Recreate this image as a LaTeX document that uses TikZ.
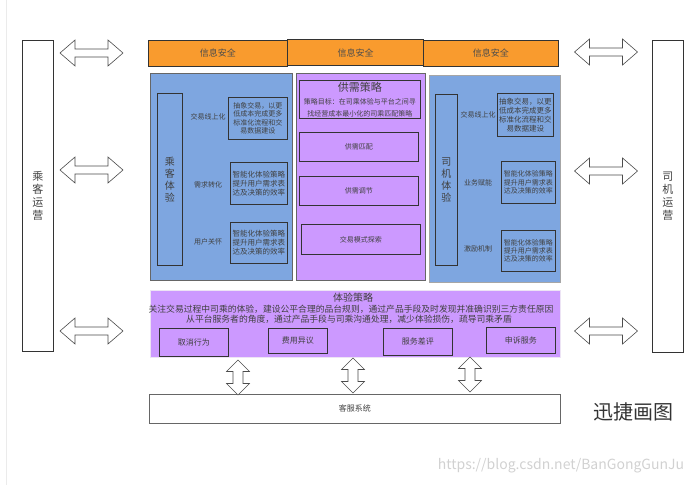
\documentclass[tikz,border=0pt]{standalone}
\usepackage{fontspec}
\setmainfont{Noto Sans CJK SC}
\definecolor{orangeC}{HTML}{F99B2E}
\definecolor{blueC}{HTML}{7EA6E0}
\definecolor{purpC}{HTML}{CC99FF}
\definecolor{txtC}{HTML}{404040}
\definecolor{edgeC}{HTML}{333333}
\newcommand{\fz}[1]{\fontsize{#1pt}{\dimexpr #1pt*6/5\relax}\selectfont}
\tikzset{
  box/.style={draw=edgeC, line width=0.8pt, inner sep=0pt, align=center, text=txtC, anchor=north west},
  lbl/.style={inner sep=0pt, align=center, text=txtC},
  harrow/.pic={\draw[draw=black!70, fill=white, line width=0.6pt]
     (-31.5,0) -- (-16.5,-13) -- (-16.5,-4) -- (16.5,-4) -- (16.5,-13) -- (31.5,0)
     -- (16.5,13) -- (16.5,4) -- (-16.5,4) -- (-16.5,13) -- cycle;},
  varrow/.pic={\draw[draw=black!70, fill=white, line width=0.6pt]
     (0,-17.5) -- (-11.5,-6) -- (-5,-6) -- (-5,6) -- (-11.5,6) -- (0,17.5)
     -- (11.5,6) -- (5,6) -- (5,-6) -- (11.5,-6) -- cycle;}
}
\begin{document}
\begin{tikzpicture}[x=1pt,y=-1pt]
\useasboundingbox (0,0) rectangle (698,485);
\draw[black!8, line width=0.6pt] (6,0) -- (6,485);
% side boxes
\node[box, line width=0.7pt, minimum width=31pt, minimum height=311pt, font=\fz{11}] (L) at (22,40) {乘\\客\\运\\营};
\node[box, line width=0.7pt, minimum width=31pt, minimum height=312pt, font=\fz{11}] (R) at (652,40) {司\\机\\运\\营};
% info security
\node[box, fill=orangeC, minimum width=139pt, minimum height=26pt, font=\fz{9}, text=black!70] (s1) at (148,40) {信息安全};
\node[box, fill=orangeC, line width=1.2pt, minimum width=136pt, minimum height=26pt, font=\fz{9}, text=black!70] (s2) at (287,39) {信息安全};
\node[box, fill=orangeC, minimum width=135pt, minimum height=26pt, font=\fz{9}, text=black!70] (s3) at (423,40) {信息安全};
% left panel
\node[box, fill=blueC, minimum width=142pt, minimum height=207pt, draw=black!60] (pL) at (150,73) {};
\node[box, minimum width=25pt, minimum height=172pt, font=\fz{10}] (vL) at (157,93) {乘\\客\\体\\验};
\node[lbl, font=\fz{7}] (lL1) at (208,117) {交易线上化};
\node[lbl, font=\fz{7}] (lL2) at (208,185) {需求转化};
\node[lbl, font=\fz{7}] (lL3) at (208,242) {用户关怀};
\node[box, minimum width=59pt, minimum height=42pt, font=\fz{7}] (bL1) at (228,97) {抽象交易，以更\\低成本完成更多\\标准化流程和交\\易数据建设};
\node[box, minimum width=57pt, minimum height=42pt, font=\fz{7.5}] (bL2) at (230,162) {智能化体验策略\\提升用户需求表\\达及决策的效率};
\node[box, minimum width=57pt, minimum height=41pt, font=\fz{7.5}] (bL3) at (230,222) {智能化体验策略\\提升用户需求表\\达及决策的效率};
% center panel
\node[box, fill=purpC, minimum width=129pt, minimum height=207pt, draw=black!60] (pC) at (296,73) {};
\node[box, minimum width=121pt, minimum height=38pt] (tC) at (299,80) {{\fz{11}供需策略}\\[1pt]{\fz{7}策略目标：在司乘体验与平台之间寻}\\{\fz{7}找经营成本最小化的司乘匹配策略}};
\node[box, minimum width=119pt, minimum height=29pt, font=\fz{7}] (c1) at (299,132) {供需匹配};
\node[box, minimum width=119pt, minimum height=29pt, font=\fz{7}] (c2) at (299,176) {供需调节};
\node[box, minimum width=119pt, minimum height=30pt, font=\fz{7}] (c3) at (301,224) {交易模式探索};
% right panel
\node[box, fill=blueC, minimum width=131pt, minimum height=207pt, draw=black!35] (pR) at (429,75) {};
\node[box, minimum width=22pt, minimum height=171pt, font=\fz{10}] (vR) at (435,94) {司\\机\\体\\验};
\node[lbl, font=\fz{7}] (lR1) at (478,115) {交易线上化};
\node[lbl, font=\fz{7}] (lR2) at (478,183) {业务赋能};
\node[lbl, font=\fz{7}] (lR3) at (478,249) {激励机制};
\node[box, minimum width=56pt, minimum height=43pt, font=\fz{7.5}] (bR1) at (497,93) {抽象交易，以更\\低成本完成更多\\标准化流程和交\\易数据建设};
\node[box, minimum width=54pt, minimum height=42pt, font=\fz{7}] (bR2) at (501,161) {智能化体验策略\\提升用户需求表\\达及决策的效率};
\node[box, minimum width=54pt, minimum height=41pt, font=\fz{7}] (bR3) at (501,230) {智能化体验策略\\提升用户需求表\\达及决策的效率};
% bottom panel
\node[box, fill=purpC, draw=purpC!80!black!20, minimum width=410pt, minimum height=67pt] (pB) at (150,290) {};
\node[lbl, font=\fz{10}] (tB) at (353,298) {体验策略};
\node[lbl, font=\fz{8.8}] (tB1) at (351,309.5) {关注交易过程中司乘的体验，建设公平合理的品台规则，通过产品手段及时发现并准确识别三方责任原因};
\node[lbl, font=\fz{8.8}] (tB2) at (349,319.5) {从平台服务者的角度，通过产品手段与司乘沟通处理，减少体验损伤，疏导司乘矛盾};
\node[box, minimum width=69pt, minimum height=28pt, font=\fz{8}] (b1) at (159,328) {取消行为};
\node[box, minimum width=59pt, minimum height=25pt, font=\fz{8}] (b2) at (268,328) {费用异议};
\node[box, minimum width=69pt, minimum height=27pt, font=\fz{8}] (b3) at (383,328) {服务差评};
\node[box, minimum width=69pt, minimum height=26pt, font=\fz{8}] (b4) at (486,327) {申诉服务};
% customer service
\node[box, draw=black!60, minimum width=411pt, minimum height=29pt, font=\fz{8}] (K) at (149,394) {客服系统};
% block arrows
\pic (aL1) at (91.5,53) {harrow};
\pic (aL2) at (91.5,170) {harrow};
\pic (aL3) at (91.5,331) {harrow};
\pic (aR1) at (606,52) {harrow};
\pic (aR2) at (606,171) {harrow};
\pic (aR3) at (606,331) {harrow};
\pic (aV1) at (238,377.5) {varrow};
\pic (aV2) at (353,375.5) {varrow};
\pic (aV3) at (470,374.5) {varrow};
% marks
\node[lbl, font=\fz{20}, text=black!80] (brand) at (633,412) {迅捷画图};
\node[lbl, font=\fz{14}, text=black!18] (wm) at (561,466) {https://blog.csdn.net/BanGongGunJu};
\end{tikzpicture}
\end{document}
